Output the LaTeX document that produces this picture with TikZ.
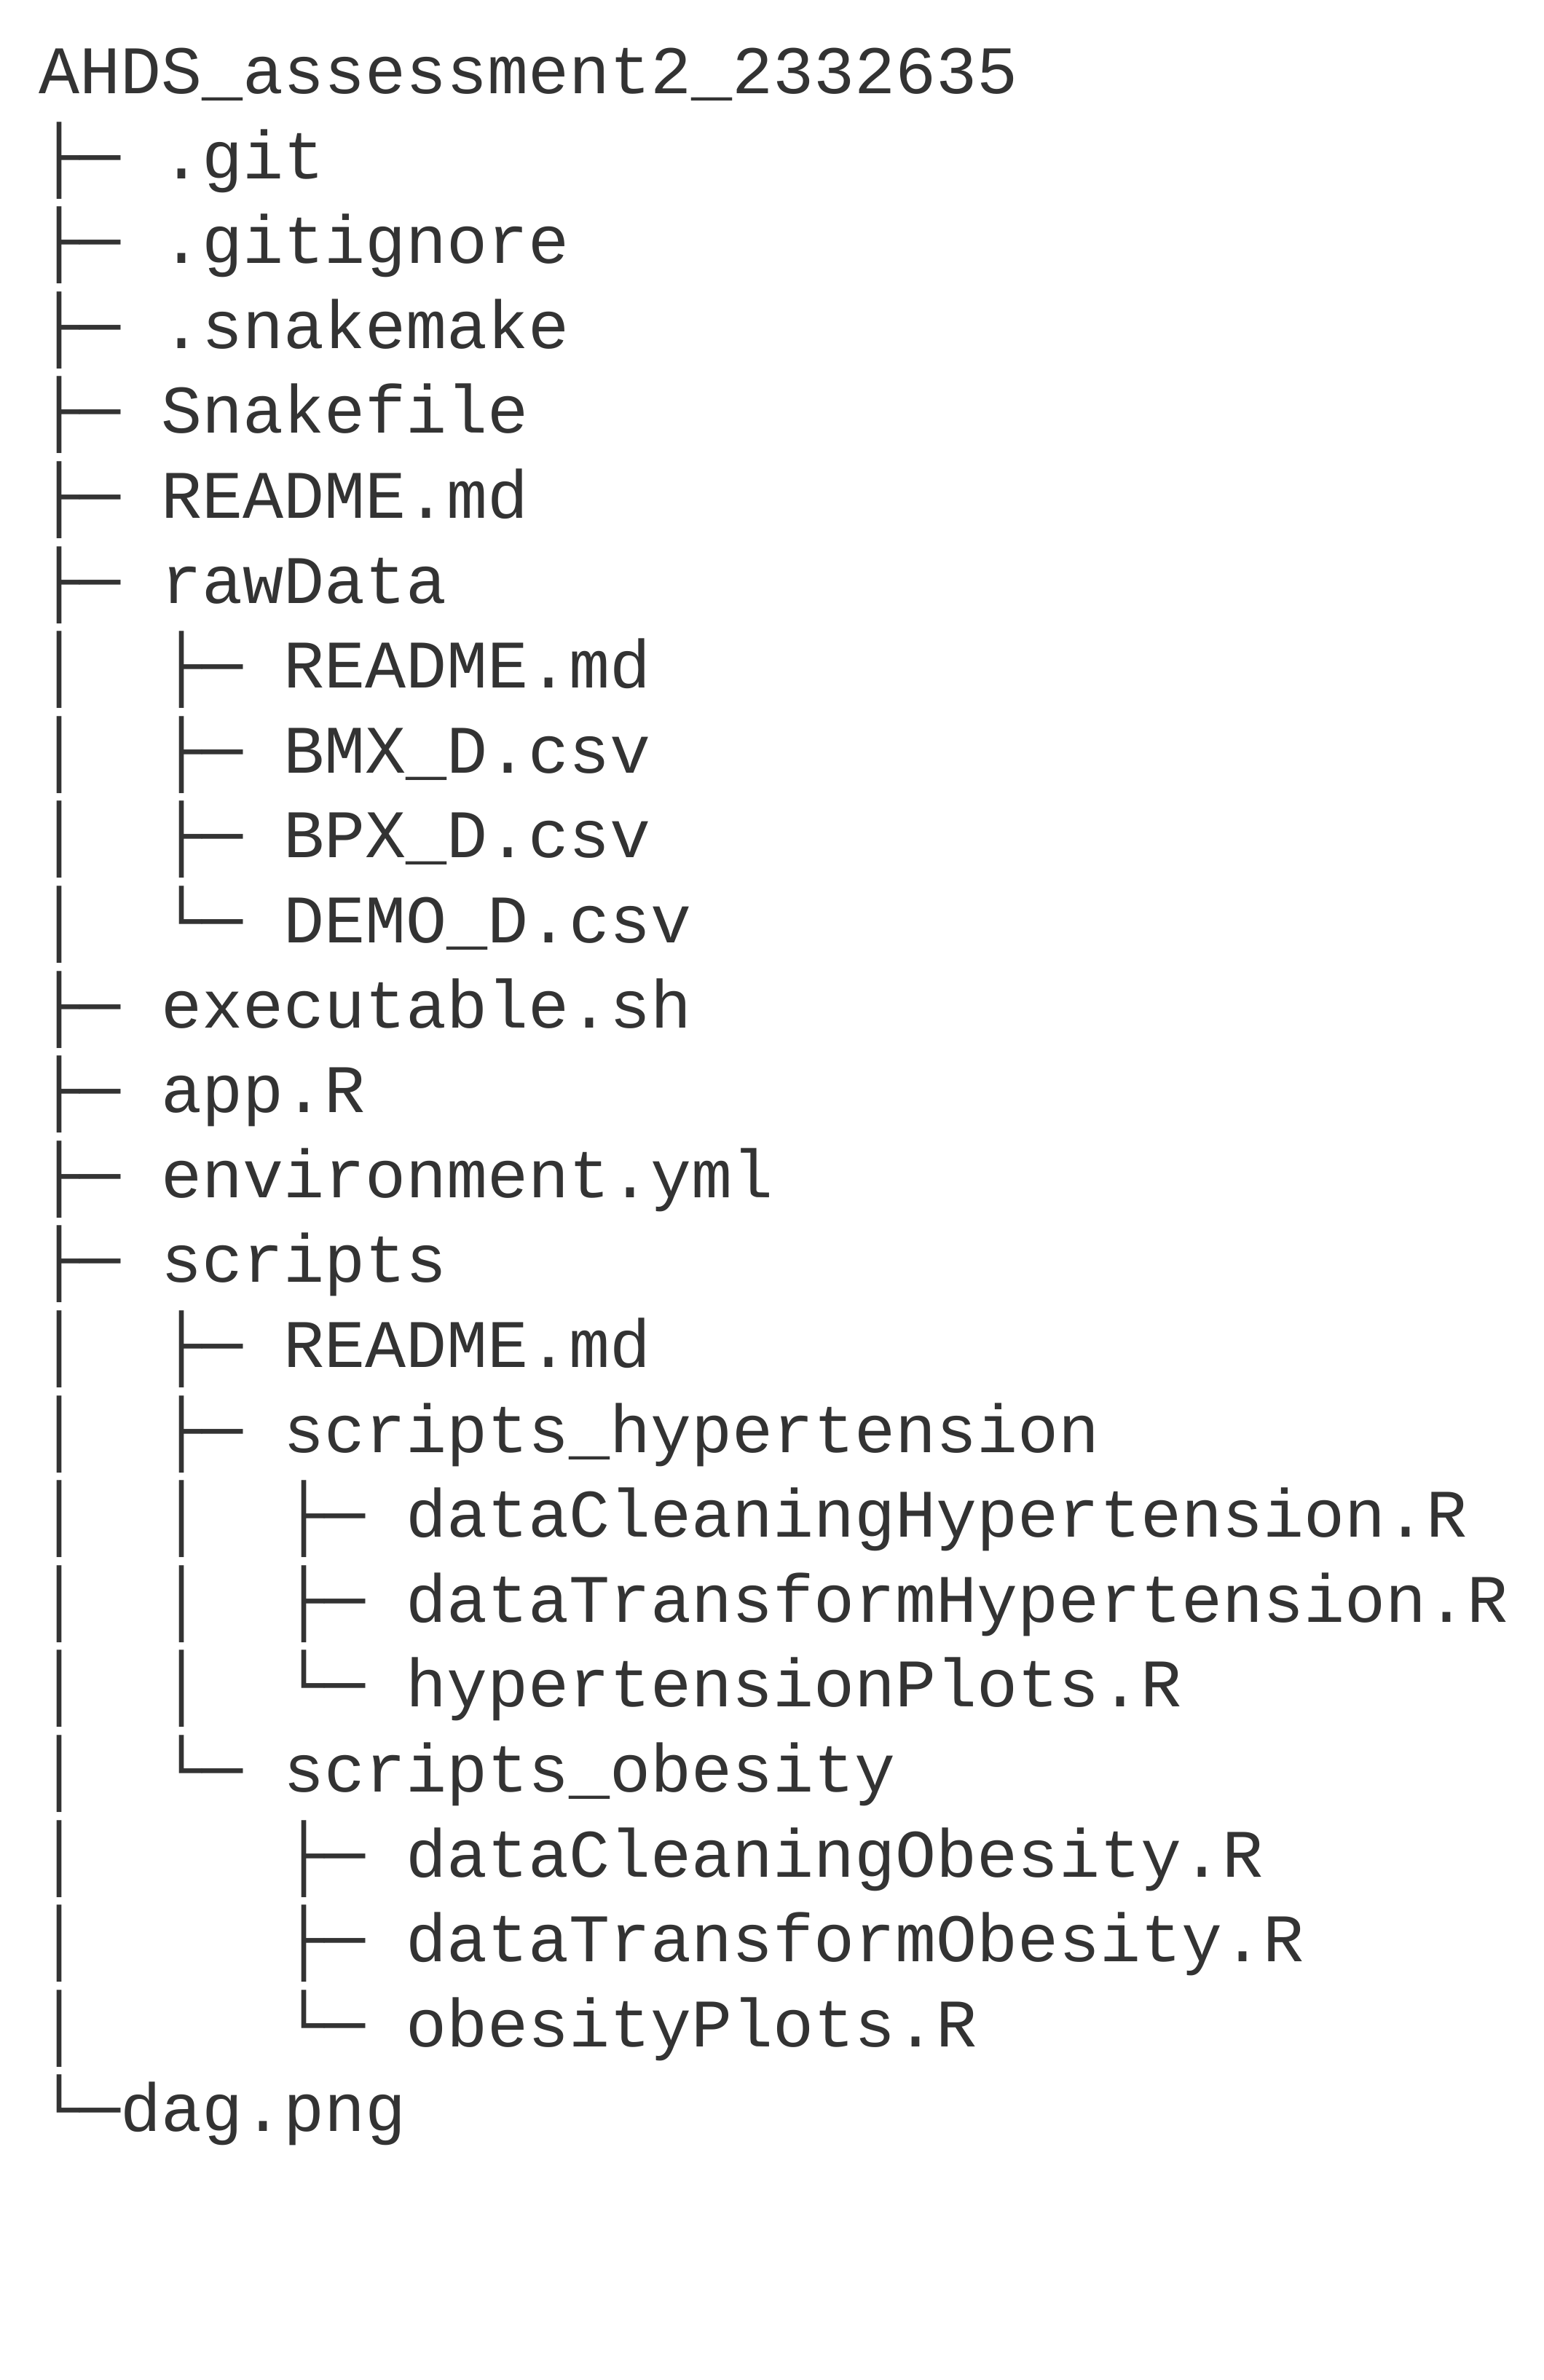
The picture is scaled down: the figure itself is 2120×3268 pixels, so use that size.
\documentclass[tikz,border=0pt]{standalone}
\usepackage{fontspec}
\usepackage{tikz}
\newfontfamily\treefont{Liberation Mono}
\definecolor{ink}{HTML}{333333}
\tikzset{entry/.style={anchor=base west, inner sep=0pt, outer sep=0pt, text=ink,
  font=\treefont\fontsize{28.02pt}{35pt}\selectfont}}

\begin{document}
\begin{tikzpicture}[x=0.3pt,y=-0.3pt]
\useasboundingbox (0,0) rectangle (2120,3268);

\node[entry] (root) at (53,128.5) {AHDS\_assessment2\_2332635};
\node[entry] (git) at (53,245.1) {├─~.git};
\node[entry] (gitignore) at (53,361.7) {├─~.gitignore};
\node[entry] (snakemake) at (53,478.3) {├─~.snakemake};
\node[entry] (snakefile) at (53,594.9) {├─~Snakefile};
\node[entry] (readme) at (53,711.5) {├─~README.md};
\node[entry] (rawdata) at (53,828.1) {├─~rawData};
\node[entry] (rawreadme) at (53,944.7) {│~~├─~README.md};
\node[entry] (bmx) at (53,1061.3) {│~~├─~BMX\_D.csv};
\node[entry] (bpx) at (53,1177.9) {│~~├─~BPX\_D.csv};
\node[entry] (demo) at (53,1294.5) {│~~└─~DEMO\_D.csv};
\node[entry] (exec) at (53,1411.1) {├─~executable.sh};
\node[entry] (app) at (53,1527.7) {├─~app.R};
\node[entry] (env) at (53,1644.3) {├─~environment.yml};
\node[entry] (scripts) at (53,1760.9) {├─~scripts};
\node[entry] (scrreadme) at (53,1877.5) {│~~├─~README.md};
\node[entry] (hyper) at (53,1994.1) {│~~├─~scripts\_hypertension};
\node[entry] (hyperclean) at (53,2110.7) {│~~│~~├─~dataCleaningHypertension.R};
\node[entry] (hypertrans) at (53,2227.3) {│~~│~~├─~dataTransformHypertension.R};
\node[entry] (hyperplots) at (53,2343.9) {│~~│~~└─~hypertensionPlots.R};
\node[entry] (obes) at (53,2460.5) {│~~└─~scripts\_obesity};
\node[entry] (obesclean) at (53,2577.1) {│~~~~~├─~dataCleaningObesity.R};
\node[entry] (obestrans) at (53,2693.7) {│~~~~~├─~dataTransformObesity.R};
\node[entry] (obesplots) at (53,2810.3) {│~~~~~└─~obesityPlots.R};
\node[entry] (dag) at (53,2926.9) {└─dag.png};
\end{tikzpicture}
\end{document}
